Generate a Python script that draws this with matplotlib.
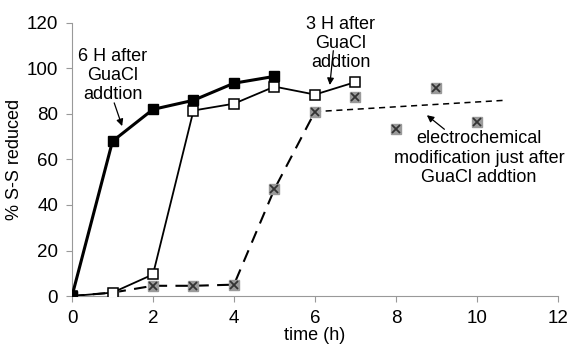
import matplotlib
matplotlib.use('Agg')
import matplotlib.pyplot as plt

plt.rcParams['font.family'] = ['Liberation Sans', 'DejaVu Sans']

# -------------------------
# Data
# -------------------------
t_6h = [0, 1, 2, 3, 4, 5]
ss_6h = [0, 68, 82, 86, 93.5, 96.5]

t_3h = [0, 1, 2, 3, 4, 5, 6, 7]
ss_3h = [0, 1.5, 9.5, 81.5, 84.5, 92, 88.5, 94]

t_ec = [0, 1, 2, 3, 4, 5, 6]
ss_ec = [0, 1.5, 4.5, 4.5, 5, 47, 81]

t_ec_pts = [7, 8, 9, 10]
ss_ec_pts = [87.5, 73.5, 91.5, 76.5]

trend_x = [6, 10.7]
trend_y = [81, 86]

# -------------------------
# Plot
# -------------------------
fig = plt.figure(figsize=(5.67, 3.52), dpi=100)
ax = fig.add_axes([0.127, 0.159, 0.857, 0.776])

ax.plot(t_ec, ss_ec, linestyle=(0, (6, 4)), color='black', linewidth=1.5, zorder=2)
ax.plot(trend_x, trend_y, linestyle=(0, (4, 3)), color='black', linewidth=1.1, zorder=2)
ax.plot(t_ec + t_ec_pts, ss_ec + ss_ec_pts, linestyle='none', marker='s', markersize=7,
        markerfacecolor='#9a9a9a', markeredgecolor='#9a9a9a', zorder=3)
ax.plot(t_ec + t_ec_pts, ss_ec + ss_ec_pts, linestyle='none', marker='x', markersize=6,
        markeredgecolor='#333333', markeredgewidth=1.3, zorder=4)

ax.plot(t_3h, ss_3h, color='black', linewidth=1.3, marker='s', markersize=7.5,
        markerfacecolor='white', markeredgecolor='black', markeredgewidth=1.1, zorder=5)
ax.plot(t_6h, ss_6h, color='black', linewidth=2.2, marker='s', markersize=7.5,
        markerfacecolor='black', markeredgecolor='black', zorder=6)

# Annotations
ax.annotate('', xy=(1.26, 73.5), xytext=(1.02, 86),
            arrowprops=dict(arrowstyle='-|>', color='black', lw=0.9, mutation_scale=10))
ax.text(1.0, 97, '6 H after\nGuaCl\naddtion', ha='center', va='center',
        fontsize=13, linespacing=1.15)

ax.annotate('', xy=(6.36, 91.5), xytext=(6.46, 109),
            arrowprops=dict(arrowstyle='-|>', color='black', lw=0.9, mutation_scale=10))
ax.text(6.63, 111, '3 H after\nGuaCl\naddtion', ha='center', va='center',
        fontsize=13, linespacing=1.15)

ax.annotate('', xy=(8.71, 80.2), xytext=(9.25, 72.5),
            arrowprops=dict(arrowstyle='-|>', color='black', lw=0.9, mutation_scale=10))
ax.text(10.05, 60.5, 'electrochemical\nmodification just after\nGuaCl addtion', ha='center',
        va='center', fontsize=13, linespacing=1.2)

# -------------------------
# Styling
# -------------------------
ax.set_xlim(0, 12)
ax.set_ylim(0, 120)
ax.set_xticks(range(0, 13, 2))
ax.set_yticks(range(0, 121, 20))
ax.tick_params(labelsize=13.5, color='#999999', length=4, pad=6)

ax.set_xlabel('time (h)', fontsize=13, labelpad=0)
ax.set_ylabel('% S-S reduced', fontsize=13, labelpad=3)

for s in ['top', 'right']:
    ax.spines[s].set_visible(False)
for s in ['left', 'bottom']:
    ax.spines[s].set_color('#999999')

fig.savefig('out.png', dpi=100)
